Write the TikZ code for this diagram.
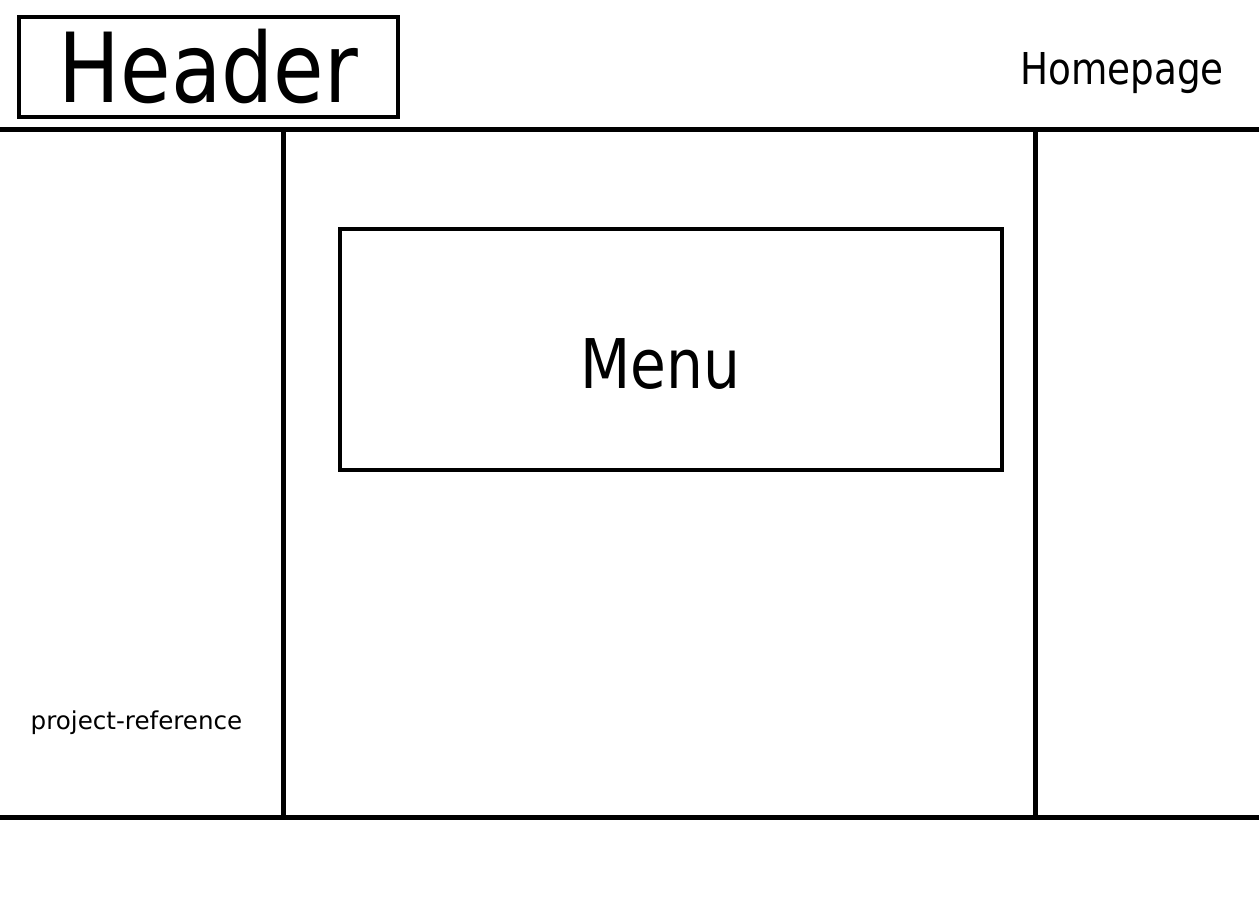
\documentclass[tikz,border=0pt]{standalone}
\usepackage{fontspec}
\setmainfont{DejaVu Sans}
\newfontfamily\narrowface{DejaVu Sans}[FakeStretch=0.85]
\tikzset{
  wire/.style={line width=0.1cm},
  box/.style={draw, line width=0.08cm, inner sep=0pt},
  bigtext/.style={font=\narrowface\fontsize{55pt}{60pt}\selectfont},
  midtext/.style={font=\narrowface\fontsize{39pt}{44pt}\selectfont},
  navtext/.style={font=\narrowface\fontsize{25pt}{30pt}\selectfont},
  smalltext/.style={font=\fontsize{14pt}{17pt}\selectfont}
}
\begin{document}
\begin{tikzpicture}[x=0.02cm,y=-0.02cm]
        \useasboundingbox (0,0) rectangle (1259,909);
        \node[box, bigtext, minimum width=7.58cm, minimum height=2cm, text height=1.44cm, text depth=0cm] (header) at (208.5,67) {Header};
        \node[navtext, anchor=base] (homepage) at (1122,85) {Homepage};
        \draw[wire] (0,130) -- (1259,130);
        \draw[wire] (0,817) -- (1259,817);
        \draw[wire] (283,130) -- (283,817);
        \draw[wire] (1035,130) -- (1035,817);
        \node[box, minimum width=13.24cm, minimum height=4.82cm] (menubox) at (671,349.5) {};
        \node[midtext, anchor=base] (menu) at (660,388) {Menu};
        \node[smalltext, anchor=base] (reference) at (136.5,729) {project-reference};
    \end{tikzpicture}
\end{document}
